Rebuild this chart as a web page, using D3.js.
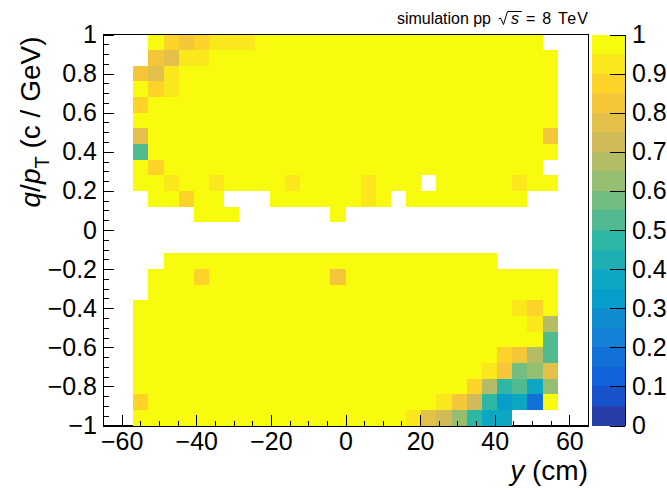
<!DOCTYPE html>
<html>
<head>
<meta charset="utf-8">
<script src="https://cdn.jsdelivr.net/npm/d3@7"></script>
<style>
  body { margin: 0; background: #fff; }
  svg text { font-family: "Liberation Sans", Arial, Helvetica, sans-serif; fill: #000; }
</style>
</head>
<body>
<svg id="chart" width="667" height="493"></svg>
<script>
const _ = null;

// binning of the 2D histogram: [min, max, number of bins]
const xBinning = [-65, 65, 32];
const yBinning = [-1, 1, 25];

const xTicks = [-60, -40, -20, 0, 20, 40, 60];
const yTicks = [-1, -0.8, -0.6, -0.4, -0.2, 0, 0.2, 0.4, 0.6, 0.8, 1];
const zTicks = [0, 0.1, 0.2, 0.3, 0.4, 0.5, 0.6, 0.7, 0.8, 0.9, 1];

// efficiency per bin, first row is the top one (q/pT near +1)
const eff = [
  [_,_,_,1,.88,.83,.88,.93, .93,.93,1,1,1,1,1,1, 1,1,1,1,1,1,1,1, 1,1,1,1,1,_,_,_],
  [_,_,_,.83,.78,.93,.93,1, 1,1,1,1,1,1,1,1, 1,1,1,1,1,1,1,1, 1,1,1,1,1,1,_,_],
  [_,_,.83,.78,.93,1,1,1, 1,1,1,1,1,1,1,1, 1,1,1,1,1,1,1,1, 1,1,1,1,1,1,_,_],
  [_,_,1,.88,.93,1,1,1, 1,1,1,1,1,1,1,1, 1,1,1,1,1,1,1,1, 1,1,1,1,1,1,_,_],
  [_,_,.88,1,1,1,1,1, 1,1,1,1,1,1,1,1, 1,1,1,1,1,1,1,1, 1,1,1,1,1,1,_,_],
  [_,_,1,1,1,1,1,1, 1,1,1,1,1,1,1,1, 1,1,1,1,1,1,1,1, 1,1,1,1,1,1,_,_],
  [_,_,.78,1,1,1,1,1, 1,1,1,1,1,1,1,1, 1,1,1,1,1,1,1,1, 1,1,1,1,1,.83,_,_],
  [_,_,.53,1,1,1,1,1, 1,1,1,1,1,1,1,1, 1,1,1,1,1,1,1,1, 1,1,1,1,1,1,_,_],
  [_,_,1,.88,1,1,1,1, 1,1,1,1,1,1,1,1, 1,1,1,1,1,1,1,1, 1,1,1,1,1,_,_,_],
  [_,_,1,1,.93,1,1,.93, 1,1,1,1,.93,1,1,1, 1,.93,1,1,1,_,1,1, 1,1,1,.93,1,1,_,_],
  [_,_,_,1,1,.88,1,1, _,_,_,1,1,1,1,1, 1,.93,1,_,1,1,1,1, 1,1,1,1,_,_,_,_],
  [_,_,_,_,_,_,1,1, 1,_,_,_,_,_,_,1, _,_,_,_,_,_,_,_, _,_,_,_,_,_,_,_],
  [_,_,_,_,_,_,_,_, _,_,_,_,_,_,_,_, _,_,_,_,_,_,_,_, _,_,_,_,_,_,_,_],
  [_,_,_,_,_,_,_,_, _,_,_,_,_,_,_,_, _,_,_,_,_,_,_,_, _,_,_,_,_,_,_,_],
  [_,_,_,_,1,1,1,1, 1,1,1,1,1,1,1,1, 1,1,1,1,1,1,1,1, 1,1,_,_,_,_,_,_],
  [_,_,_,1,1,1,.88,1, 1,1,1,1,1,1,1,.83, 1,1,1,1,1,1,1,1, 1,1,1,1,1,1,_,_],
  [_,_,_,1,1,1,1,1, 1,1,1,1,1,1,1,1, 1,1,1,1,1,1,1,1, 1,1,1,1,1,1,_,_],
  [_,_,1,1,1,1,1,1, 1,1,1,1,1,1,1,1, 1,1,1,1,1,1,1,1, 1,1,1,.93,.88,1,_,_],
  [_,_,1,1,1,1,1,1, 1,1,1,1,1,1,1,1, 1,1,1,1,1,1,1,1, 1,1,1,1,.93,.68,_,_],
  [_,_,1,1,1,1,1,1, 1,1,1,1,1,1,1,1, 1,1,1,1,1,1,1,1, 1,1,1,1,1,.53,_,_],
  [_,_,1,1,1,1,1,1, 1,1,1,1,1,1,1,1, 1,1,1,1,1,1,1,1, 1,1,.88,.83,.68,.53,_,_],
  [_,_,1,1,1,1,1,1, 1,1,1,1,1,1,1,1, 1,1,1,1,1,1,1,1, 1,.93,.83,.58,.63,.78,_,_],
  [_,_,1,1,1,1,1,1, 1,1,1,1,1,1,1,1, 1,1,1,1,1,1,1,1, .88,.68,.48,.53,.38,.63,_,_],
  [_,_,.88,1,1,1,1,1, 1,1,1,1,1,1,1,1, 1,1,1,1,1,1,.93,.83, .73,.48,.33,.38,.18,1,_,_],
  [_,_,1,1,1,1,1,1, 1,1,1,1,1,1,1,1, 1,1,1,1,.93,.78,.73,.63, .48,.38,.38,_,_,_,_,_]
];

// ROOT "bird" palette
const birdStops = [0, 0.125, 0.25, 0.375, 0.5, 0.625, 0.75, 0.875, 1];
const birdRGB = [
  [0.2082, 0.1664, 0.5293], [0.0592, 0.3599, 0.8684], [0.0780, 0.5041, 0.8385],
  [0.0232, 0.6419, 0.7914], [0.1802, 0.7178, 0.6425], [0.5301, 0.7492, 0.4662],
  [0.8186, 0.7328, 0.3499], [0.9956, 0.7862, 0.1968], [0.9764, 0.9832, 0.0539]
];
const bird = d3.scaleLinear()
  .domain(birdStops)
  .range(birdRGB.map(c => d3.rgb(c[0] * 255, c[1] * 255, c[2] * 255)))
  .interpolate(d3.interpolateRgb);

const nLevels = 20;
function levelColor(level) {
  var idx = Math.floor((level + 0.99) * 255 / nLevels);
  return bird(idx / 254);
}
function binColor(v) {
  return levelColor(Math.min(nLevels - 1, Math.floor(v * nLevels)));
}

var frame = { left: 103, right: 588, top: 34.5, bottom: 425.5 };
var palette = { left: 592, right: 625 };

var x = d3.scaleLinear().domain([xBinning[0], xBinning[1]]).range([frame.left, frame.right]);
var y = d3.scaleLinear().domain([yBinning[0], yBinning[1]]).range([frame.bottom, frame.top]);
var z = d3.scaleLinear().domain([0, 1]).range([frame.bottom, frame.top]);

var svg = d3.select("#chart");

// frame
svg.append("rect")
  .attr("x", frame.left).attr("y", frame.top)
  .attr("width", frame.right - frame.left).attr("height", frame.bottom - frame.top)
  .attr("fill", "none").attr("stroke", "#000").attr("stroke-width", 1)
  .attr("shape-rendering", "crispEdges");

// cells
var bx = (xBinning[1] - xBinning[0]) / xBinning[2];
var by = (yBinning[1] - yBinning[0]) / yBinning[2];
var cells = [];
eff.forEach(function (row, r) {
  row.forEach(function (v, k) {
    if (v !== null) cells.push({ r: r, k: k, v: v });
  });
});

svg.append("g").selectAll("rect")
  .data(cells)
  .enter().append("rect")
  .attr("x", d => x(xBinning[0] + d.k * bx))
  .attr("width", d => x(xBinning[0] + (d.k + 1) * bx) - x(xBinning[0] + d.k * bx))
  .attr("y", d => y(yBinning[1] - d.r * by))
  .attr("height", d => y(yBinning[1] - (d.r + 1) * by) - y(yBinning[1] - d.r * by))
  .attr("fill", d => binColor(d.v))
  .attr("shape-rendering", "crispEdges");

var fmt = d3.format("~g");

// x axis
svg.append("g")
  .attr("transform", "translate(0," + frame.bottom + ")")
  .call(d3.axisBottom(x).tickValues(d3.range(-65, 66, 5)).tickSize(-5).tickSizeOuter(0).tickFormat(""));
svg.append("g")
  .attr("class", "xaxis")
  .attr("transform", "translate(0," + frame.bottom + ")")
  .call(d3.axisBottom(x).tickValues(xTicks).tickSize(-11).tickSizeOuter(0).tickPadding(7).tickFormat(fmt));

// y axis
svg.append("g")
  .attr("transform", "translate(" + frame.left + ",0)")
  .call(d3.axisLeft(y).tickValues(d3.range(-20, 21).map(i => i * 0.05)).tickSize(-6).tickSizeOuter(0).tickFormat(""));
svg.append("g")
  .attr("class", "yaxis")
  .attr("transform", "translate(" + frame.left + ",0)")
  .call(d3.axisLeft(y).tickValues(yTicks).tickSize(-11).tickSizeOuter(0).tickPadding(6).tickFormat(fmt));

// palette
svg.append("g").selectAll("rect")
  .data(d3.range(nLevels))
  .enter().append("rect")
  .attr("x", palette.left)
  .attr("width", palette.right - palette.left)
  .attr("y", d => z((d + 1) / nLevels))
  .attr("height", d => z(d / nLevels) - z((d + 1) / nLevels))
  .attr("fill", d => levelColor(d))
  .attr("shape-rendering", "crispEdges");
svg.append("g")
  .attr("class", "zaxis")
  .attr("transform", "translate(" + palette.right + ",0)")
  .call(d3.axisRight(z).tickValues(zTicks).tickSize(-15).tickSizeOuter(0).tickPadding(7).tickFormat(fmt));

svg.selectAll(".domain, .tick line").attr("stroke", "#000").attr("shape-rendering", "crispEdges");
svg.selectAll(".xaxis text, .yaxis text, .zaxis text")
  .attr("fill", "#000")
  .style("font-size", "25px");

// axis titles
var xTitle = svg.append("text")
  .attr("x", frame.right).attr("y", 480)
  .attr("text-anchor", "end")
  .style("font-size", "28px");
xTitle.append("tspan").style("font-style", "italic").text("y");
xTitle.append("tspan").text(" (cm)");

var yTitle = svg.append("text")
  .attr("transform", "translate(40," + (frame.top + 2) + ") rotate(-90)")
  .attr("text-anchor", "end")
  .style("font-size", "28px");
yTitle.append("tspan").style("font-style", "italic").text("q");
yTitle.append("tspan").text("/");
yTitle.append("tspan").style("font-style", "italic").text("p");
yTitle.append("tspan").attr("dy", 9).style("font-size", "20px").text("T");
yTitle.append("tspan").attr("dy", -9).text(" (c / GeV)");

// label in the top right corner
svg.append("text")
  .attr("x", 397).attr("y", 24)
  .attr("textLength", 94).attr("lengthAdjust", "spacing")
  .style("font-size", "16px")
  .text("simulation pp");
svg.append("path")
  .attr("d", "M498.5,19 L500.5,18 L503.5,24.5 L507.5,11.5 L522,11.5")
  .attr("fill", "none").attr("stroke", "#000").attr("stroke-width", 1);
svg.append("text")
  .attr("x", 511).attr("y", 24)
  .style("font-size", "16px").style("font-style", "italic")
  .text("s");
svg.append("text")
  .attr("x", 526).attr("y", 24)
  .attr("textLength", 62).attr("lengthAdjust", "spacing")
  .style("font-size", "16px")
  .text("= 8 TeV");
</script>
</body>
</html>
